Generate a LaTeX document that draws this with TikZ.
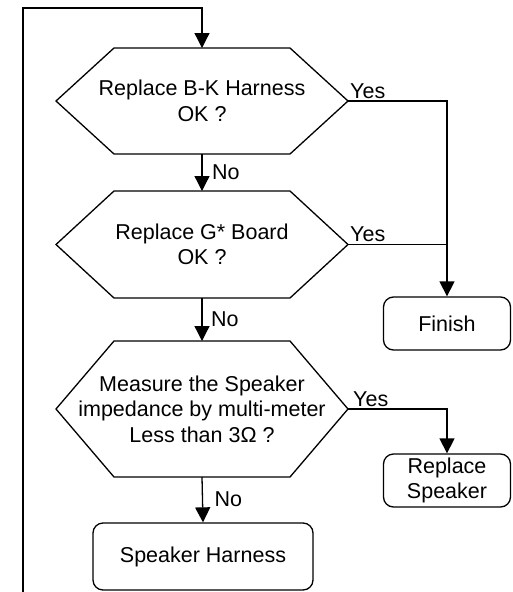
\documentclass[tikz,border=0pt]{standalone}
\usepackage{fontspec}
\setmainfont{Liberation Sans}
\usetikzlibrary{arrows.meta,calc}

\begin{document}
\begin{tikzpicture}[x=1pt,y=-1pt,
  every node/.style={font=\fontsize{21.5}{25.5}\selectfont},
  decision/.style={minimum width=292pt,align=center,inner sep=0pt,outer sep=0pt},
  endbox/.style={draw,line width=1.3pt,rounded corners=10pt,align=center,inner sep=0pt},
  flow/.style={line width=1.3pt,-{Triangle[length=15pt,width=15pt]}},
  lbl/.style={inner sep=0pt}]
  \useasboundingbox (0,0) rectangle (512,592);
  % decisions
  \node[decision,minimum height=106pt] (bk) at (202,101)
    {Replace B-K Harness\\OK ?};
  \node[decision,minimum height=107pt] (gboard) at (202,244.5)
    {Replace G* Board\\OK ?};
  \node[decision,minimum height=136pt] (measure) at (202,409)
    {Measure the Speaker\\impedance by multi-meter\\Less than 3Ω ?};
  \foreach \n in {bk,gboard,measure}
    \draw[line width=1.3pt,line join=miter] (\n.west) -- ([xshift=58pt]\n.north west)
      -- ([xshift=-58pt]\n.north east) -- (\n.east)
      -- ([xshift=-58pt]\n.south east) -- ([xshift=58pt]\n.south west) -- cycle;
  % end boxes
  \node[endbox,minimum width=127pt,minimum height=53pt] (finish) at (447,323.5) {Finish};
  \node[endbox,minimum width=127pt,minimum height=53pt] (replace) at (447,480.5)
    {Replace\\Speaker};
  \node[endbox,minimum width=220pt,minimum height=67pt] (harness) at (203,556.5)
    {Speaker Harness};
  % loop back
  \coordinate (loopstart) at (23,592);
  \coordinate (looptop) at (23,8);
  \draw[flow] (loopstart) -- (looptop) -| (bk.north);
  % connectors
  \draw[flow] (bk.south) -- (gboard.north);
  \draw[flow] (gboard.south) -- (measure.north);
  \draw[flow] (measure.south) -- (harness.north);
  \draw[flow] (bk.east) -| (finish.north);
  \draw[line width=1.3pt] (gboard.east) -- (gboard.east -| finish.north);
  \draw[flow] (measure.east) -| (replace.north);
  % labels
  \node[lbl,anchor=base west] (yes1) at ([xshift=2pt,yshift=3pt]bk.east) {Yes};
  \node[lbl,anchor=base west] (yes2) at ([xshift=2pt,yshift=3pt]gboard.east) {Yes};
  \node[lbl,anchor=base west] (yes3) at ([xshift=5pt,yshift=3pt]measure.east) {Yes};
  \node[lbl,anchor=west] (no1) at ([xshift=10pt]$(bk.south)!0.5!(gboard.north)$) {No};
  \node[lbl,anchor=west] (no2) at ([xshift=9pt]$(gboard.south)!0.5!(measure.north)$) {No};
  \node[lbl,anchor=west] (no3) at ([xshift=12pt]$(measure.south)!0.5!(harness.north)$) {No};
\end{tikzpicture}
\end{document}
